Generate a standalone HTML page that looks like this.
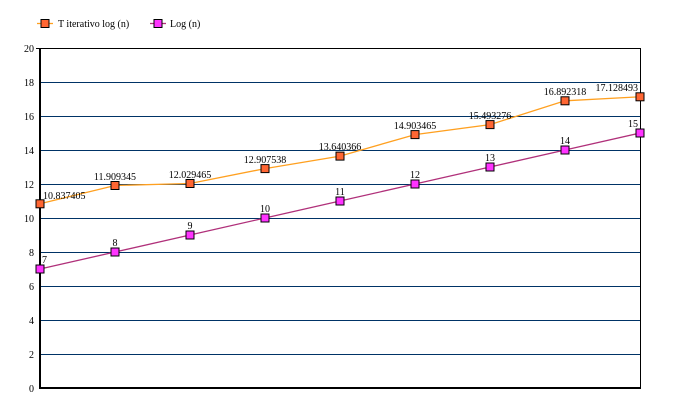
<!DOCTYPE html>
<html><head><meta charset="utf-8"><style>body{margin:0;background:#fff}svg{display:block}text{font-family:"Liberation Serif",serif;font-size:10px;fill:#000}</style></head>
<body>
<svg width="679" height="415" viewBox="0 0 679 415" xmlns="http://www.w3.org/2000/svg">
<g stroke="#003366" stroke-width="1">
<line x1="40" x2="640" y1="354.5" y2="354.5"/><line x1="40" x2="640" y1="320.5" y2="320.5"/><line x1="40" x2="640" y1="286.5" y2="286.5"/><line x1="40" x2="640" y1="252.5" y2="252.5"/><line x1="40" x2="640" y1="218.5" y2="218.5"/><line x1="40" x2="640" y1="184.5" y2="184.5"/><line x1="40" x2="640" y1="150.5" y2="150.5"/><line x1="40" x2="640" y1="116.5" y2="116.5"/><line x1="40" x2="640" y1="82.5" y2="82.5"/>
</g>
<rect x="40.5" y="48.5" width="600" height="340" fill="none" stroke="#000" stroke-width="1"/>
<line x1="40" x2="40" y1="48" y2="389" stroke="#000" stroke-width="2"/>
<line x1="39" x2="640" y1="388" y2="388" stroke="#000" stroke-width="2"/>
<g text-anchor="end">
<text x="34" y="392">0</text><text x="34" y="358">2</text><text x="34" y="324">4</text><text x="34" y="290">6</text><text x="34" y="256">8</text><text x="34" y="222">10</text><text x="34" y="188">12</text><text x="34" y="154">14</text><text x="34" y="120">16</text><text x="34" y="86">18</text><text x="34" y="52">20</text>
</g>
<g stroke="#000" stroke-width="1"><line x1="36" x2="40" y1="48.5" y2="48.5"/></g>
<polyline fill="none" stroke="#ffa020" stroke-width="1.3" points="40,203.8 115,185.5 190,183.5 265,168.6 340,156.1 415,134.6 490,124.6 565,100.8 640,96.8"/>
<polyline fill="none" stroke="#b0307a" stroke-width="1.3" points="40,269 115,252 190,235 265,218 340,201 415,184 490,167 565,150 640,133"/>
<g fill="#ff6633" stroke="#000" stroke-width="1">
<rect x="36" y="199.8" width="8" height="8"/><rect x="111" y="181.5" width="8" height="8"/><rect x="186" y="179.5" width="8" height="8"/><rect x="261" y="164.6" width="8" height="8"/><rect x="336" y="152.1" width="8" height="8"/><rect x="411" y="130.6" width="8" height="8"/><rect x="486" y="120.6" width="8" height="8"/><rect x="561" y="96.8" width="8" height="8"/><rect x="636" y="92.8" width="8" height="8"/>
</g>
<g fill="#ff33ff" stroke="#000" stroke-width="1">
<rect x="36" y="265" width="8" height="8"/><rect x="111" y="248" width="8" height="8"/><rect x="186" y="231" width="8" height="8"/><rect x="261" y="214" width="8" height="8"/><rect x="336" y="197" width="8" height="8"/><rect x="411" y="180" width="8" height="8"/><rect x="486" y="163" width="8" height="8"/><rect x="561" y="146" width="8" height="8"/><rect x="636" y="129" width="8" height="8"/>
</g>
<text x="43" y="199">10.837405</text>
<g text-anchor="middle">
<text x="115" y="180">11.909345</text><text x="190" y="178">12.029465</text><text x="265" y="163">12.907538</text><text x="340" y="150">13.640366</text><text x="415" y="129">14.903465</text><text x="490" y="119">15.493276</text><text x="565" y="95">16.892318</text>
<text x="115" y="246">8</text><text x="190" y="229">9</text><text x="265" y="212">10</text><text x="340" y="195">11</text><text x="415" y="178">12</text><text x="490" y="161">13</text><text x="565" y="144">14</text>
</g>
<text x="638" y="91" text-anchor="end">17.128493</text>
<text x="638" y="127" text-anchor="end">15</text>
<text x="42" y="263">7</text>
<line x1="37" x2="53" y1="23.5" y2="23.5" stroke="#ffa020" stroke-width="1.3"/>
<rect x="41" y="19.5" width="8" height="8" fill="#ff6633" stroke="#000"/>
<text x="58" y="27">T iterativo log (n)</text>
<line x1="150" x2="166" y1="23.5" y2="23.5" stroke="#b0307a" stroke-width="1.3"/>
<rect x="154" y="19.5" width="8" height="8" fill="#ff33ff" stroke="#000"/>
<text x="170" y="27">Log (n)</text>
</svg>
</body></html>
